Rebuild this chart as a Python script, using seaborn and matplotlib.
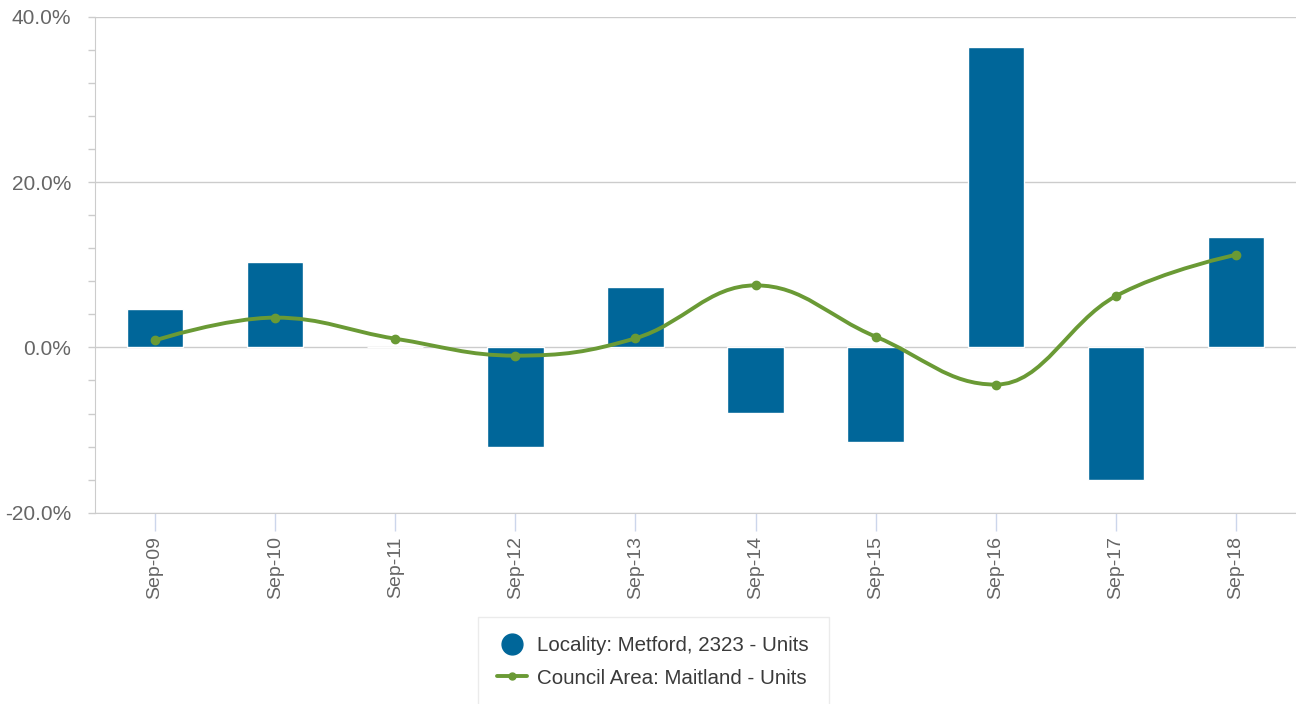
import numpy as np
import pandas as pd
import matplotlib
matplotlib.use("Agg")
import matplotlib.pyplot as plt
import seaborn as sns
from matplotlib.path import Path
from matplotlib.patches import PathPatch
from matplotlib.lines import Line2D
from matplotlib.ticker import MultipleLocator, FuncFormatter

months = ["Sep-09", "Sep-10", "Sep-11", "Sep-12", "Sep-13",
          "Sep-14", "Sep-15", "Sep-16", "Sep-17", "Sep-18"]
locality = [4.7, 10.3, 0.0, -12.1, 7.3, -7.9, -11.4, 36.3, -16.0, 13.3]
council = [0.85, 3.6, 1.05, -1.0, 1.1, 7.5, 1.3, -4.5, 6.2, 11.2]

bar_label = "Locality: Metford, 2323 - Units"
line_label = "Council Area: Maitland - Units"

BLUE = "#006699"
GREEN = "#6a9a35"


def spline_path(xs, ys, smoothing=1.5):
    # cubic bezier segments, same control-point rule as a Highcharts spline
    n = len(xs)
    left = [(xs[i], ys[i]) for i in range(n)]
    right = [(xs[i], ys[i]) for i in range(n)]
    d = smoothing + 1
    for i in range(1, n - 1):
        px, py = xs[i], ys[i]
        lx, ly = xs[i - 1], ys[i - 1]
        nx, ny = xs[i + 1], ys[i + 1]
        lcx, lcy = (smoothing * px + lx) / d, (smoothing * py + ly) / d
        rcx, rcy = (smoothing * px + nx) / d, (smoothing * py + ny) / d
        corr = (rcy - lcy) * (rcx - px) / (rcx - lcx) + py - rcy
        lcy += corr
        rcy += corr
        if lcy > ly and lcy > py:
            lcy = max(ly, py); rcy = 2 * py - lcy
        elif lcy < ly and lcy < py:
            lcy = min(ly, py); rcy = 2 * py - lcy
        if rcy > ny and rcy > py:
            rcy = max(ny, py); lcy = 2 * py - rcy
        elif rcy < ny and rcy < py:
            rcy = min(ny, py); lcy = 2 * py - rcy
        left[i] = (lcx, lcy)
        right[i] = (rcx, rcy)
    verts = [(xs[0], ys[0])]
    codes = [Path.MOVETO]
    for i in range(1, n):
        verts += [right[i - 1], left[i], (xs[i], ys[i])]
        codes += [Path.CURVE4] * 3
    return Path(verts, codes)


sns.set_style("white")
plt.rcParams["font.family"] = ["Liberation Sans", "DejaVu Sans"]

df = pd.DataFrame({"month": months, "locality": locality, "council": council})

fig = plt.figure(figsize=(12.96, 7.04), dpi=100)
ax = fig.add_axes([0.0733, 0.2717, 0.9267, 0.7046])

sns.barplot(data=df, x="month", y="locality", order=months, color=BLUE,
            width=0.47, edgecolor="white", linewidth=1, saturation=1,
            ax=ax, zorder=3)

pos = np.arange(len(months))
ax.add_patch(PathPatch(spline_path(pos, df["council"].to_numpy()),
                       facecolor="none", edgecolor=GREEN, lw=2.8,
                       zorder=4, capstyle="round", joinstyle="round"))
ax.plot(pos, df["council"], linestyle="none", marker="o", markersize=6,
        color=GREEN, zorder=5)

ax.set_ylim(-20, 40)
ax.set_xlim(-0.5, 9.5)
ax.yaxis.set_major_locator(MultipleLocator(20))
ax.yaxis.set_minor_locator(MultipleLocator(4))
ax.yaxis.set_major_formatter(FuncFormatter(lambda v, p: f"{v:.1f}%"))
ax.grid(axis="y", which="major", color="#cccccc", lw=1, zorder=0)
ax.set_axisbelow(True)
ax.set_xlabel("")
ax.set_ylabel("")

for s in ["top", "right"]:
    ax.spines[s].set_visible(False)
ax.spines["left"].set_color("#cccccc")
ax.spines["bottom"].set_color("#cccccc")

ax.tick_params(axis="y", which="both", left=True, length=5, width=1,
               color="#cccccc", labelsize=15, labelcolor="#666666", pad=12)
ax.tick_params(axis="x", bottom=True, length=13, width=1, color="#ccd6eb",
               labelsize=14, labelcolor="#666666", pad=4)
plt.setp(ax.get_xticklabels(), rotation=90, ha="center", va="top")

handles = [
    Line2D([], [], linestyle="none", marker="o", markersize=15, color=BLUE),
    Line2D([], [], color=GREEN, lw=2.8, marker="o", markersize=5),
]
leg = fig.legend(handles, [bar_label, line_label], loc="upper center",
                 bbox_to_anchor=(0.504, 0.124), ncol=1, frameon=True,
                 fancybox=False, fontsize=14.8, labelcolor="#3a3a3a",
                 handlelength=1.45, handletextpad=0.5, borderpad=0.95,
                 labelspacing=0.65, borderaxespad=0)
leg.get_frame().set_edgecolor("#e6e6e6")
leg.get_frame().set_linewidth(1)

fig.savefig("out.png", dpi=100)
plt.close(fig)
